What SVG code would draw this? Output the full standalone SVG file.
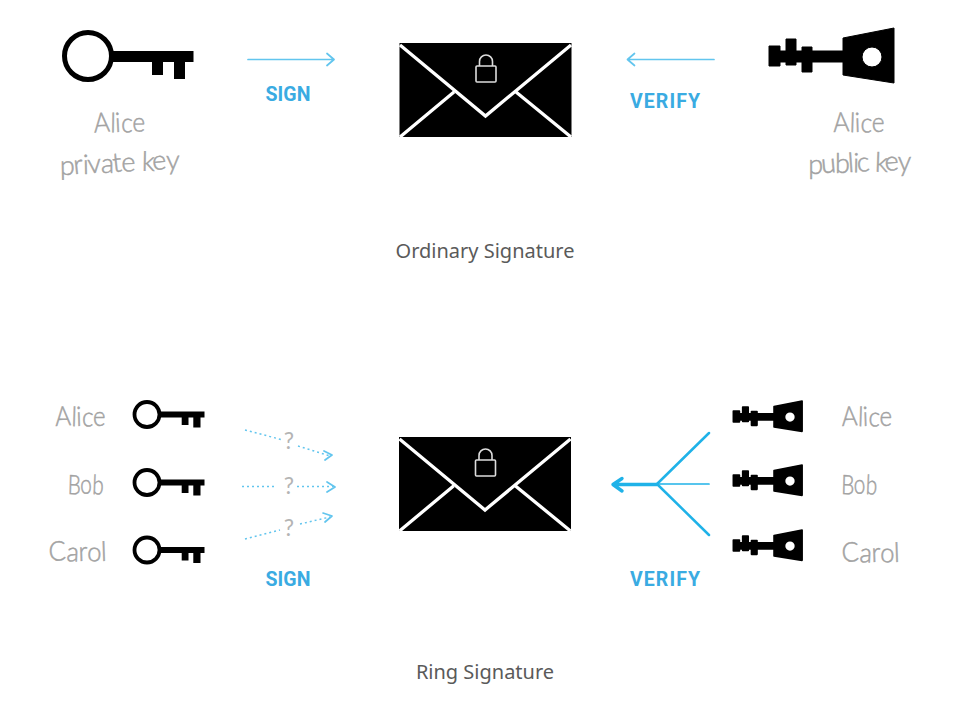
<svg xmlns="http://www.w3.org/2000/svg" width="970" height="710" viewBox="0 0 970 710">
  <style>
    .hand { font-family: "Lato", "Open Sans", sans-serif; font-weight: 300; font-size: 27px; fill: #a2a2a2; stroke: #a2a2a2; stroke-width: .5; text-anchor: middle; }
    .action { font-family: "Roboto", "Liberation Sans", sans-serif; font-weight: 700; font-size: 19.500px; fill: #3aabe2; text-anchor: middle; }
    .caption { font-family: "Noto Sans", "Open Sans", sans-serif; font-size: 20px; fill: #5a5a5a; text-anchor: middle; }
    .guess { font-family: "Lato", "Open Sans", sans-serif; font-size: 23px; fill: #b4b4b4; text-anchor: middle; }
    .thin { fill: none; stroke: #62c5ee; stroke-width: 1.700; stroke-linecap: round; stroke-linejoin: round; }
    .dots { fill: none; stroke: #62c5ee; stroke-width: 1.500; stroke-dasharray: 2 3; }
    .fan { fill: none; stroke: #1fb2e8; stroke-linecap: round; stroke-linejoin: round; }
    .large-blade { stroke: #000; stroke-width: 1; }
    .small-blade { stroke: #000; stroke-width: 3; }
  </style>
  <defs>
    <g id="private-key">
      <circle cx="88" cy="56" r="23.500" fill="#fff" stroke="#000" stroke-width="5"/>
      <path d="M111 51H193.500V62H185V79H174V62H163V75H152V62H111Z" fill="#000"/>
    </g>
    <!-- Reduced key drawn with heavier strokes so it stays legible at small size -->
    <g id="private-key-small">
      <circle r="12.500" fill="#fff" stroke="#000" stroke-width="3.800"/>
      <path d="M12 -3H57.500V3H53.500V13H46.300V3H41.500V10.500H34.700V3H12Z" fill="#000"/>
    </g>
    <path id="public-key" fill-rule="evenodd" fill="#000" stroke-linejoin="round" d="M843 38L894 28V83L843 75V62H812V72H802V62H796V65H786V62H780V66H769V46H780V51H786V39H796V51H802V47H812V51H843ZM882 57A10 10 0 1 0 862 57A10 10 0 1 0 882 57Z"/>
    <g id="envelope">
      <rect x="399.500" y="43" width="172" height="94" fill="#000"/>
      <path d="M400 45L485.500 116L571 45M400 137L454 92M571 137L516 92" fill="none" stroke="#fff" stroke-width="3.300"/>
      <rect x="476" y="66" width="20" height="16" rx="1" fill="none" stroke="#ddd" stroke-width="1.600"/>
      <path d="M479.500 66V61.500A6.500 6.500 0 0 1 492.500 61.500V66" fill="none" stroke="#ddd" stroke-width="1.600"/>
    </g>
  </defs>

  <g id="alice-private-key">
    <use href="#private-key"/>
    <text class="hand" x="119.500" y="132" textLength="51" lengthAdjust="spacingAndGlyphs" rotate="-3 2 -2 3 0" transform="rotate(-1 119 122)">Alice</text>
    <text class="hand" x="119.500" y="172" textLength="120" rotate="2 -3 2 -2 3 -3 0 0 4 -3 2" transform="rotate(-3 119 165)">private key</text>
  </g>
  <g id="signed-envelope"><use href="#envelope"/></g>
  <g id="alice-public-key">
    <use href="#public-key" class="large-blade"/>
    <text class="hand" x="859" y="132" textLength="51" lengthAdjust="spacingAndGlyphs" rotate="-3 2 -2 3 0">Alice</text>
    <text class="hand" x="859.500" y="172" textLength="103" rotate="2 -3 2 -2 3 -3 0 4 -3 2" transform="rotate(-2 859 165)">public key</text>
  </g>
  <text id="ordinary-caption" class="caption" x="485" y="257.500">Ordinary Signature</text>

  <g id="ring-private-keys">
    <g id="ring-alice-private">
      <use href="#private-key-small" transform="translate(147 414.500)"/>
      <text class="hand" x="80.500" y="426" textLength="50" lengthAdjust="spacingAndGlyphs" rotate="-3 2 -2 3 0">Alice</text>
    </g>
    <g id="ring-bob-private">
      <use href="#private-key-small" transform="translate(147 482.500)"/>
      <text class="hand" x="85.500" y="494" textLength="36" lengthAdjust="spacingAndGlyphs" rotate="2 -3 3">Bob</text>
    </g>
    <g id="ring-carol-private">
      <use href="#private-key-small" transform="translate(147 550)"/>
      <text class="hand" x="78" y="561" textLength="58" lengthAdjust="spacingAndGlyphs" rotate="-3 3 -2 2 -2">Carol</text>
    </g>
  </g>
  <g id="ring-envelope"><use href="#envelope" transform="translate(-.5 394)"/></g>
  <g id="ring-public-keys">
    <g id="ring-alice-public">
      <use href="#public-key" class="small-blade" transform="translate(310.400 385.700) scale(.55)"/>
      <text class="hand" x="867" y="426" textLength="50" lengthAdjust="spacingAndGlyphs" rotate="-3 2 -2 3 0">Alice</text>
    </g>
    <g id="ring-bob-public">
      <use href="#public-key" class="small-blade" transform="translate(310.400 449.700) scale(.55)"/>
      <text class="hand" x="859" y="494" textLength="36" lengthAdjust="spacingAndGlyphs" rotate="2 -3 3">Bob</text>
    </g>
    <g id="ring-carol-public">
      <use href="#public-key" class="small-blade" transform="translate(310.400 514.700) scale(.55)"/>
      <text class="hand" x="871" y="562" textLength="58" lengthAdjust="spacingAndGlyphs" rotate="-3 3 -2 2 -2">Carol</text>
    </g>
  </g>
  <text id="ring-caption" class="caption" x="485" y="678.500">Ring Signature</text>

  <g id="connectors">
    <path class="thin" d="M248 59.500H334M327 53.500L334 59.500L327 65.500"/>
    <path class="thin" d="M714 59.500H627.500M634.500 53.500L627.500 59.500L634.500 65.500"/>
    <path class="dots" d="M245 430L283 440M298 446L330 456"/>
    <path class="dots" d="M242 486.500H277M297 486.500H333"/>
    <path class="dots" d="M245 539L280 530M300 524L330 517"/>
    <path class="thin" d="M324 451L332 455L325 460M327 482L335 487L327 492M323 513L332 516L325 522"/>
    <path class="fan" stroke-width="2.500" d="M709 433L657 484L709 535"/>
    <path class="fan" stroke-width="1.700" d="M657 484H709"/>
    <path class="fan" stroke-width="3.400" d="M657 484.500H613M622 478.500L613 484.500L622 491"/>
  </g>

  <g id="connector-labels">
    <text class="action" x="288" y="100.500" textLength="45">SIGN</text>
    <text class="action" x="665" y="107.500" textLength="70">VERIFY</text>
    <text class="guess" x="289" y="449">?</text>
    <text class="guess" x="289" y="494">?</text>
    <text class="guess" x="289" y="536">?</text>
    <text class="action" x="288" y="586" textLength="45">SIGN</text>
    <text class="action" x="665" y="586" textLength="70">VERIFY</text>
  </g>
</svg>
